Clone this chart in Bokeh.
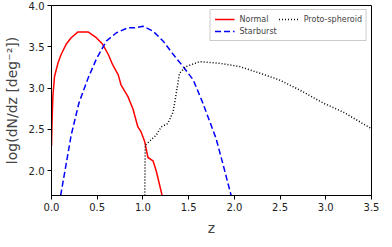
from bokeh.plotting import figure
from bokeh.models import FixedTicker, NumeralTickFormatter, Legend, LegendItem, Range1d
from bokeh.embed import file_html
from bokeh.resources import INLINE

normal_z = [0.0, 0.005, 0.015, 0.033, 0.07, 0.106, 0.16, 0.215, 0.29, 0.40, 0.49, 0.56, 0.62, 0.67,
            0.73, 0.76, 0.835, 0.89, 0.945, 0.98, 1.02, 1.055, 1.11, 1.145, 1.21]
normal_y = [2.30, 2.55, 2.90, 3.14, 3.30, 3.41, 3.53, 3.61, 3.68, 3.68, 3.61, 3.53, 3.41, 3.28,
            3.16, 3.04, 2.90, 2.75, 2.53, 2.47, 2.35, 2.16, 2.12, 2.00, 1.70]

star_z = [0.10, 0.16, 0.215, 0.30, 0.40, 0.49, 0.60, 0.71, 0.835, 0.925, 1.0, 1.11, 1.22, 1.33,
          1.44, 1.55, 1.655, 1.80, 1.875, 1.965]
star_y = [1.70, 2.08, 2.43, 2.82, 3.12, 3.35, 3.57, 3.67, 3.73, 3.73, 3.75, 3.69, 3.57, 3.41,
          3.26, 3.10, 2.82, 2.39, 2.08, 1.70]

proto_z = [1.02, 1.025, 1.145, 1.20, 1.27, 1.33, 1.365, 1.40, 1.47, 1.62, 1.84, 2.06, 2.28,
           2.49, 2.71, 2.97, 3.19, 3.50]
proto_y = [1.70, 2.31, 2.43, 2.53, 2.57, 2.71, 2.94, 3.18, 3.26, 3.32, 3.30, 3.26, 3.18,
           3.10, 2.98, 2.82, 2.71, 2.51]

x_ticks = [0.0, 0.5, 1.0, 1.5, 2.0, 2.5, 3.0, 3.5]
y_ticks = [2.0, 2.5, 3.0, 3.5, 4.0]

p = figure(frame_width=320, frame_height=190, output_backend="svg", toolbar_location=None,
           x_range=Range1d(0, 3.5), y_range=Range1d(1.7, 4.0),
           min_border_left=44, min_border_right=10, min_border_top=5, min_border_bottom=38)
p.grid.visible = False
p.outline_line_color = "black"
p.outline_line_width = 1
p.background_fill_color = "white"
p.border_fill_color = "white"

r1 = p.line(normal_z, normal_y, line_color="red", line_width=1.5)
r2 = p.line(star_z, star_y, line_color="blue", line_width=1.5, line_dash="6 3")
r3 = p.line(proto_z, proto_y, line_color="black", line_width=1.5, line_dash="1 2")

for ax in (p.xaxis[0], p.yaxis[0]):
    ax.minor_tick_line_color = None
    ax.major_tick_in = 0
    ax.major_tick_out = 4
    ax.major_label_text_font = "DejaVu Sans"
    ax.major_label_text_font_size = "10px"
    ax.major_label_text_color = "#222222"
    ax.axis_label_text_font = "DejaVu Sans"
    ax.axis_label_text_font_size = "14px"
    ax.axis_label_text_font_style = "normal"
    ax.axis_line_color = "black"
    ax.major_label_standoff = 3
    ax.axis_label_standoff = 6

p.xaxis.ticker = FixedTicker(ticks=x_ticks)
p.yaxis.ticker = FixedTicker(ticks=y_ticks)
p.xaxis.formatter = NumeralTickFormatter(format="0.0")
p.yaxis.formatter = NumeralTickFormatter(format="0.0")
p.xaxis.axis_label = "z"
p.yaxis.axis_label = "log(dN/dz [deg\u207b\u00b2])"

legend = Legend(items=[LegendItem(label="Normal", renderers=[r1]),
                       LegendItem(label="Starburst", renderers=[r2]),
                       LegendItem(label="Proto-spheroid", renderers=[r3])],
                location="top_right", ncols=2, orientation="vertical")
legend.label_text_font = "DejaVu Sans"
legend.label_text_font_size = "8px"
legend.label_height = 10
legend.glyph_height = 10
legend.glyph_width = 20
legend.spacing = 2
legend.padding = 4
legend.margin = 4
legend.border_line_color = "#cccccc"
legend.border_line_alpha = 1
legend.background_fill_alpha = 0.8
p.add_layout(legend)

open("out.html", "w").write(file_html(p, INLINE))
